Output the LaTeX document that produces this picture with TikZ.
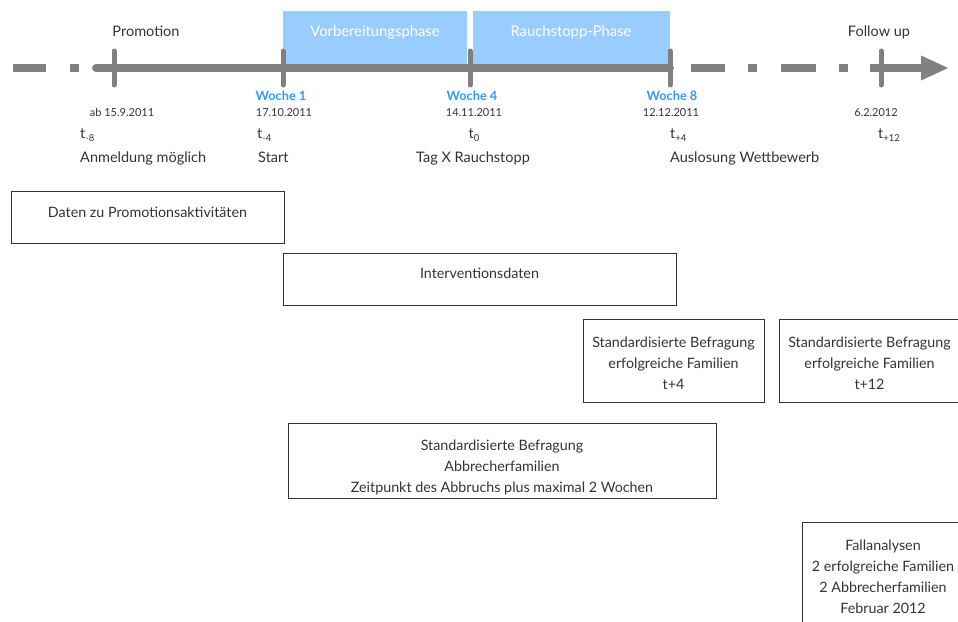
\documentclass[tikz,border=0pt]{standalone}
\usepackage{fontspec}
\setmainfont{Lato}
\definecolor{tlgray}{HTML}{808080}
\definecolor{phase}{HTML}{99CCFF}
\definecolor{woche}{HTML}{3399FF}
\definecolor{txt}{HTML}{333333}
\tikzset{
  tl/.style={draw=tlgray, line width=8pt},
  tick/.style={draw=tlgray, line width=5pt, line cap=round},
  lbl/.style={inner sep=0pt, anchor=base, text=txt, font=\fontsize{14.5}{17}\selectfont},
  small/.style={lbl, font=\fontsize{11}{13}\selectfont},
  wk/.style={inner sep=0pt, anchor=base, text=woche, font=\fontsize{12.8}{15}\selectfont\bfseries},
  phasetxt/.style={inner sep=0pt, anchor=base, text=white, font=\fontsize{14.8}{17}\selectfont},
  box/.style={draw=txt, line width=0.9pt, inner sep=0pt},
  boxtxt/.style={inner sep=0pt, text=txt, align=center, font=\fontsize{14.3}{21}\selectfont},
}
\newcommand{\tsub}[1]{t\raisebox{-0.45ex}{\fontsize{9.5}{10}\selectfont #1}}
\begin{document}
\begin{tikzpicture}[x=1pt,y=-1pt]
\useasboundingbox (0,0) rectangle (958,621);
% phases
\fill[phase] (283,11) rectangle (467,66);
\fill[phase] (473,11) rectangle (670,66);
\node[phasetxt] (vor) at (375,36) {Vorbereitungsphase};
\node[phasetxt] (rau) at (571,36) {Rauchstopp-Phase};
% timeline
\draw[tl] (13,68) -- (46,68);
\fill[tlgray] (70,64) rectangle (79,72);
\draw[tl, line cap=round] (96,68) -- (670,68);
\draw[tl] (691,68) -- (725,68);
\fill[tlgray] (748,64) rectangle (757,72);
\draw[tl] (781,68) -- (816,68);
\fill[tlgray] (839,64) rectangle (848,72);
\draw[tl] (870,68) -- (924,68);
\fill[tlgray] (921,55.5) -- (948,68) -- (921,80.5) -- cycle;
\foreach \x/\n in {114/a,283/b,470/c,670/d,881/e}{
  \coordinate (tk\n) at (\x,68);
  \draw[tick] (\x,51) -- (\x,85);
}
% top labels
\node[lbl] (prom) at (146,36) {Promotion};
\node[lbl] (fol) at (879,36) {Follow up};
% week labels
\node[wk] (w1) at (281,100) {Woche 1};
\node[wk] (w4) at (472,100) {Woche 4};
\node[wk] (w8) at (672,100) {Woche 8};
% dates
\node[small] (d0) at (122,116) {ab 15.9.2011};
\node[small] (d1) at (284,116) {17.10.2011};
\node[small] (d4) at (474,116) {14.11.2011};
\node[small] (d8) at (671,116) {12.12.2011};
\node[small] (d12) at (876,116) {6.2.2012};
% t labels
\node[lbl, anchor=base west] (tm8) at (80,138) {\tsub{-8}};
\node[lbl, anchor=base west] (tm4) at (257,138) {\tsub{-4}};
\node[lbl] (t0) at (474,138) {\tsub{0}};
\node[lbl, anchor=base west] (tp4) at (670,138) {\tsub{+4}};
\node[lbl, anchor=base west] (tp12) at (878,138) {\tsub{+12}};
% event labels
\node[lbl, anchor=base west] (anm) at (80,162) {Anmeldung möglich};
\node[lbl, anchor=base west] (sta) at (258,162) {Start};
\node[lbl] (tag) at (473,162) {Tag X Rauchstopp};
\node[lbl, anchor=base west] (aus) at (670,162) {Auslosung Wettbewerb};
% boxes
\node[box, minimum width=273pt, minimum height=52pt] (b1) at (147.5,217) {};
\node[boxtxt, anchor=base] at (147.5,217) {Daten zu Promotionsaktivitäten};
\node[box, minimum width=393pt, minimum height=52pt] (b2) at (479.5,279) {};
\node[boxtxt, anchor=base] at (479.5,278) {Interventionsdaten};
\node[box, minimum width=181pt, minimum height=83pt] (b3) at (673.5,360.5) {};
\node[boxtxt] at (673.5,363) {Standardisierte Befragung\\erfolgreiche Familien\\t+4};
\node[box, minimum width=181pt, minimum height=83pt] (b4) at (869.5,360.5) {};
\node[boxtxt] at (869.5,363) {Standardisierte Befragung\\erfolgreiche Familien\\t+12};
\node[box, minimum width=428pt, minimum height=75pt] (b5) at (502,460.5) {};
\node[boxtxt] at (502,467) {Standardisierte Befragung\\Abbrecherfamilien\\Zeitpunkt des Abbruchs plus maximal 2 Wochen};
\node[box, minimum width=170pt, minimum height=110pt, anchor=north west] (b6) at (802,522) {};
\node[boxtxt] at (883,577) {Fallanalysen\\2 erfolgreiche Familien\\2 Abbrecherfamilien\\Februar 2012};
\end{tikzpicture}
\end{document}
